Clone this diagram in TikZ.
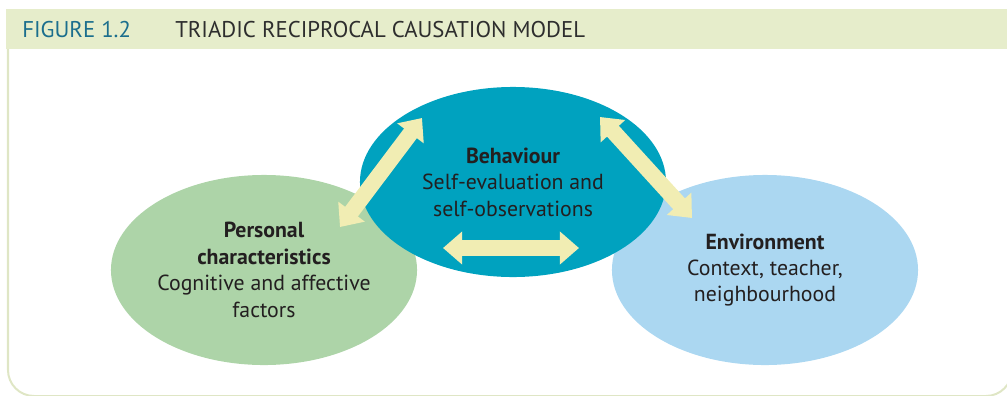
\documentclass[tikz,border=0pt]{standalone}
\usepackage{fontspec}
\setmainfont{PT Sans}
\usetikzlibrary{shapes.geometric,arrows.meta}

\definecolor{headband}{HTML}{E6EDCB}
\definecolor{figblue}{HTML}{1B6E8D}
\definecolor{headtext}{HTML}{2E2E2E}
\definecolor{persgreen}{HTML}{ADD4A8}
\definecolor{behteal}{HTML}{00A2BF}
\definecolor{envblue}{HTML}{ABD7F1}
\definecolor{arrowyellow}{HTML}{F1EDB3}
\definecolor{bodytext}{HTML}{231F20}

\begin{document}
\begin{tikzpicture}[x=0.025cm,y=-0.025cm,
  blob/.style={ellipse,minimum width=7.65cm,minimum height=4.75cm,inner sep=0pt,
    align=center,text=bodytext,font=\fontsize{15.5}{18.8}\selectfont},
  headline/.style={anchor=base west,inner sep=0pt,font=\fontsize{16.2}{18}\selectfont},
  twoway/.style={line width=0.4cm,draw=arrowyellow,fill=arrowyellow,
    {Triangle[length=0.48cm,width=0.8cm]}-{Triangle[length=0.48cm,width=0.8cm]}}]
\useasboundingbox (0,0) rectangle (1007,395);

% header and frame
\fill[headband] (6,9) rectangle (1007,49);
\draw[headband!90!black!30!headband,line width=0.05cm,rounded corners=0.65cm]
  (8,49) -- (8,396) -- (1012,396) -- (1012,49);
\node [headline,text=figblue] (fignum) at (22,37) {FIGURE 1.2};
\node [headline,text=headtext] (figtitle) at (175,37) {TRIADIC RECIPROCAL CAUSATION MODEL};

% the three factors
\node [blob,fill=persgreen] (pers) at (264,270)
  {\textbf{Personal}\\\textbf{characteristics}\\Cognitive and affective\\factors};
\node [blob,fill=envblue] (env) at (765,270)
  {\textbf{Environment}\\Context, teacher,\\neighbourhood};
\node [blob,fill=behteal] (beh) at (513,182)
  {\textbf{Behaviour}\\Self-evaluation and\\self-observations};

% arrow ends
\coordinate (persTip) at (340,227);
\coordinate (behLeft) at (422,118);
\coordinate (behRight) at (600,117);
\coordinate (envTip) at (692,218);
\coordinate (loopA) at (443,248);
\coordinate (loopB) at (579,248);

\draw[twoway] (persTip) -- (behLeft);
\draw[twoway] (behRight) -- (envTip);
\draw[twoway] (loopA) -- (loopB);
\end{tikzpicture}
\end{document}
